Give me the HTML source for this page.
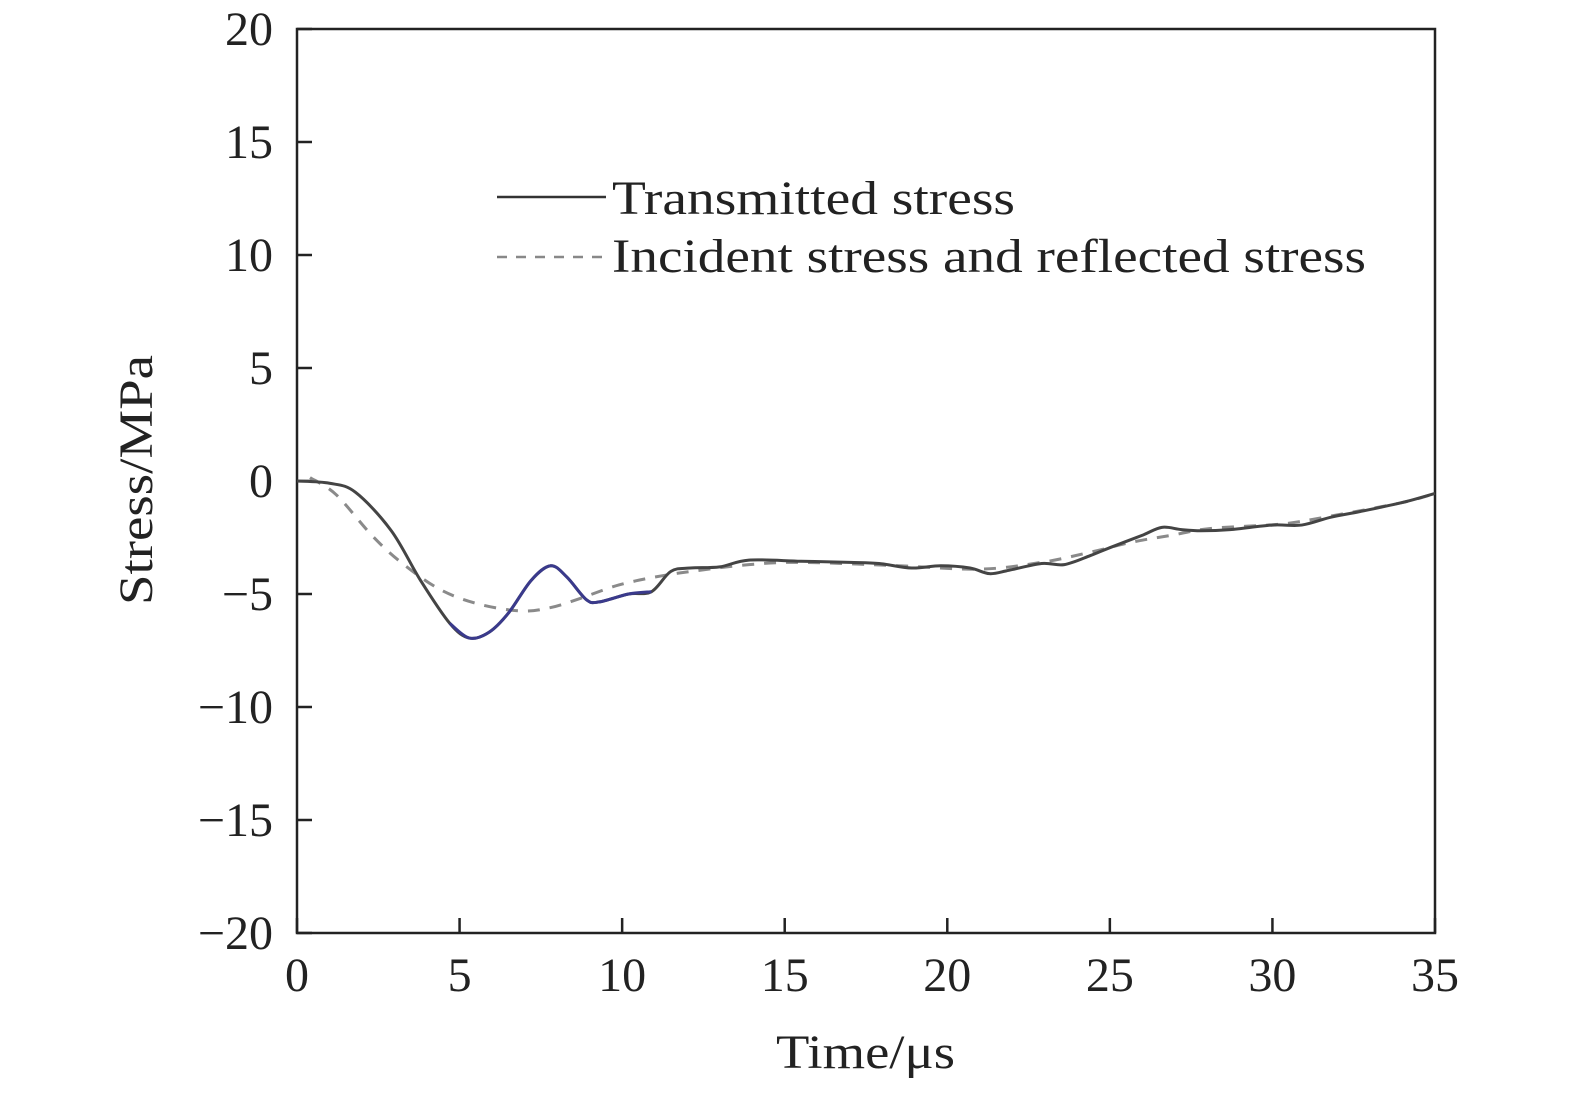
<!DOCTYPE html>
<html><head><meta charset="utf-8"><style>
html,body{margin:0;padding:0;background:#fff;}
svg{display:block;font-family:"Liberation Serif",serif;}
</style></head><body>
<svg id="chart" width="1575" height="1093" viewBox="0 0 1575 1093">
<rect x="0" y="0" width="1575" height="1093" fill="#fff"/>
<g id="axes"></g>
<g id="series"></g>
<g>
<line x1="497" y1="197" x2="606" y2="197" stroke="#333" stroke-width="2.5"/>
<text x="612" y="214" font-size="48" fill="#222" textLength="403" lengthAdjust="spacingAndGlyphs">Transmitted stress</text>
<line x1="497" y1="257" x2="606" y2="257" stroke="#888" stroke-width="2.5" stroke-dasharray="10,9"/>
<text x="612" y="272" font-size="48" fill="#222" textLength="754" lengthAdjust="spacingAndGlyphs">Incident stress and reflected stress</text>
</g>
<text x="776" y="1068" font-size="48" fill="#222" textLength="179" lengthAdjust="spacingAndGlyphs">Time/μs</text>
<text transform="translate(152,605) rotate(-90)" font-size="48" fill="#222" textLength="250" lengthAdjust="spacingAndGlyphs">Stress/MPa</text>
</svg>
<script>
const xTicks = [0,5,10,15,20,25,30,35];
const yTicks = [20,15,10,5,0,-5,-10,-15,-20];
const transT = [0,1,1.8,2.9,3.8,4.7,5.3,5.9,6.5,7.2,7.8,8.3,8.9,9.3,10.2,10.9,11.5,12.1,13.0,13.9,15.5,17,17.9,18.9,19.8,20.7,21.3,21.9,22.9,23.6,24.4,25,26,26.6,27.2,27.8,28.7,30,30.9,31.8,32.7,34,35];
const transV = [0,-0.1,-0.5,-2.2,-4.4,-6.3,-6.95,-6.7,-5.85,-4.4,-3.75,-4.25,-5.25,-5.35,-5.0,-4.9,-4.0,-3.85,-3.8,-3.5,-3.55,-3.6,-3.65,-3.85,-3.75,-3.85,-4.1,-3.95,-3.65,-3.7,-3.3,-2.95,-2.4,-2.05,-2.15,-2.2,-2.15,-1.95,-1.95,-1.6,-1.35,-0.95,-0.55];
const incT = [0.4,1.2,2.3,3.2,4.4,5.6,6.9,7.8,8.7,9.9,11.2,12.4,13.9,15.5,18.5,21,22.9,24.4,25.7,26.9,28.1,30.3,31.8,34,35];
const incV = [0.15,-0.6,-2.4,-3.6,-4.8,-5.45,-5.75,-5.6,-5.2,-4.6,-4.2,-3.95,-3.7,-3.6,-3.75,-3.9,-3.6,-3.15,-2.7,-2.4,-2.1,-1.9,-1.55,-0.95,-0.55];

const X0=297,X1=1435,Y0=933,Y1=29;
const xs=v=>X0+(v-0)/(35-0)*(X1-X0);
const ys=v=>Y0-(v+20)/40*(Y0-Y1);
const NS="http://www.w3.org/2000/svg";
const axes=document.getElementById('axes'),series=document.getElementById('series');
function mk(tag,attrs,parent){const e=document.createElementNS(NS,tag);for(const k in attrs)e.setAttribute(k,attrs[k]);parent.appendChild(e);return e;}

const frame=mk('rect',{x:X0,y:Y1,width:X1-X0,height:Y0-Y1,fill:'none',stroke:'#222','stroke-width':2.5},axes);


xTicks.forEach(t=>{
  const l=mk('line',{x1:xs(t),x2:xs(t),y1:Y0,y2:Y0-15,stroke:'#222','stroke-width':2.5},axes);
  
  
  const tx=mk('text',{x:xs(t),y:Y0+58,'font-size':48,'text-anchor':'middle',fill:'#222'},axes);
  tx.textContent=t;
  
  
});
yTicks.forEach(t=>{
  const l=mk('line',{x1:X0,x2:X0+15,y1:ys(t),y2:ys(t),stroke:'#222','stroke-width':2.5},axes);
  
  
  const tx=mk('text',{x:X0-24,y:ys(t)+16,'font-size':48,'text-anchor':'end',fill:'#222'},axes);
  tx.textContent=(t<0?'\u2212'+(-t):t);
  
  
});
function smooth(T,V){
  const p=T.map((t,i)=>[xs(t),ys(V[i])]);
  let d='M'+p[0][0]+','+p[0][1];
  for(let i=0;i<p.length-1;i++){
    const a=p[i-1]||p[i],b=p[i],c=p[i+1],e=p[i+2]||c;
    d+=' C'+(b[0]+(c[0]-a[0])/6)+','+(b[1]+(c[1]-a[1])/6)+' '+(c[0]-(e[0]-b[0])/6)+','+(c[1]-(e[1]-b[1])/6)+' '+c[0]+','+c[1];
  }
  return d;
}
const inc=mk('path',{d:smooth(incT,incV),fill:'none',stroke:'#8a8a8a','stroke-width':3,'stroke-dasharray':'12,10'},series);


const tr=mk('path',{d:smooth(transT,transV),fill:'none',stroke:'#444','stroke-width':3},series);


const bT=transT.slice(5,16),bV=transV.slice(5,16);
const bl=mk('path',{d:smooth(bT,bV),fill:'none',stroke:'#3a3a8c','stroke-width':3},series);


</script>
</body></html>
